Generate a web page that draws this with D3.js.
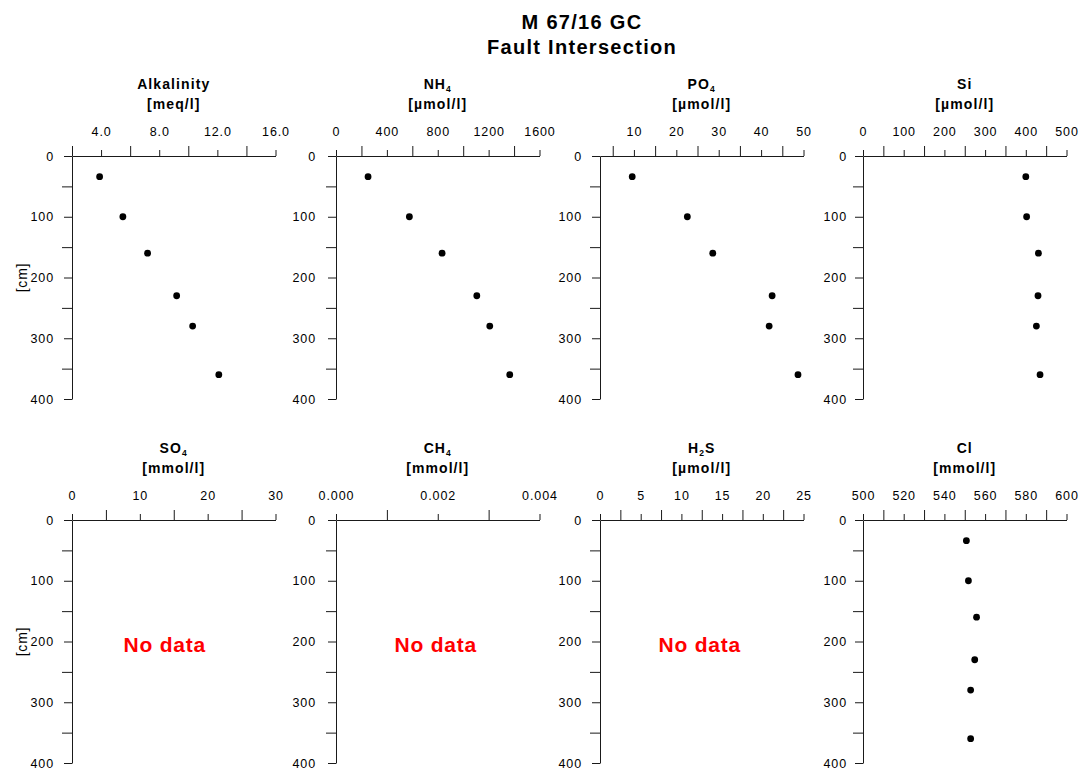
<!DOCTYPE html>
<html>
<head>
<meta charset="utf-8">
<script src="https://cdn.jsdelivr.net/npm/d3@7"></script>
<style>
  html, body { margin: 0; padding: 0; background: #fff; }
  svg { display: block; font-family: "Liberation Sans", Arial, sans-serif; }
</style>
</head>
<body>
<svg id="chart" width="1079" height="769"></svg>
<script>
// ---------------- data ----------------
const depth      = [34, 100, 160, 230, 280, 360];           // cm
const alkalinity = [3.9, 5.5, 7.2, 9.2, 10.3, 12.1];        // meq/l
const nh4        = [252, 577, 834, 1107, 1209, 1366];       // µmol/l
const po4        = [9.6, 22.6, 28.6, 42.6, 41.9, 48.7];     // µmol/l
const si         = [400, 402, 431, 430, 426, 435];          // µmol/l
const so4        = [];                                      // mmol/l (no data)
const ch4        = [];                                      // mmol/l (no data)
const h2s        = [];                                      // µmol/l (no data)
const cl         = [550.8, 551.8, 555.8, 554.9, 552.9, 552.9]; // mmol/l

// axis ticks and labelled ticks
const alkTicks = [2, 4, 6, 8, 10, 12, 14, 16],            alkLabels = [4, 8, 12, 16];
const nh4Ticks = [0, 200, 400, 600, 800, 1000, 1200, 1400, 1600], nh4Labels = [0, 400, 800, 1200, 1600];
const po4Ticks = [5, 10, 15, 20, 25, 30, 35, 40, 45, 50], po4Labels = [10, 20, 30, 40, 50];
const siTicks  = [0, 50, 100, 150, 200, 250, 300, 350, 400, 450, 500], siLabels = [0, 100, 200, 300, 400, 500];
const so4Ticks = [0, 5, 10, 15, 20, 25, 30],              so4Labels = [0, 10, 20, 30];
const ch4Ticks = [0, 0.001, 0.002, 0.003, 0.004],         ch4Labels = [0, 0.002, 0.004];
const h2sTicks = [0, 2.5, 5, 7.5, 10, 12.5, 15, 17.5, 20, 22.5, 25], h2sLabels = [0, 5, 10, 15, 20, 25];
const clTicks  = [500, 510, 520, 530, 540, 550, 560, 570, 580, 590, 600], clLabels = [500, 520, 540, 560, 580, 600];
const depthTicks = [0, 50, 100, 150, 200, 250, 300, 350, 400], depthLabels = [0, 100, 200, 300, 400];

const titleText = ["M 67/16 GC", "Fault Intersection"];
const depthLabel = "[cm]";
const noDataText = "No data";

// ---------------- panels ----------------
const panels = [
  {name: [["Alkalinity"]], unit: "[meq/l]", values: alkalinity, domain: [2, 16], ticks: alkTicks, labels: alkLabels, fmt: ".1f"},
  {name: [["NH"], ["4", 1]], unit: "[µmol/l]", values: nh4, domain: [0, 1600], ticks: nh4Ticks, labels: nh4Labels, fmt: "d"},
  {name: [["PO"], ["4", 1]], unit: "[µmol/l]", values: po4, domain: [2, 50], ticks: po4Ticks, labels: po4Labels, fmt: "d"},
  {name: [["Si"]], unit: "[µmol/l]", values: si, domain: [0, 500], ticks: siTicks, labels: siLabels, fmt: "d"},
  {name: [["SO"], ["4", 1]], unit: "[mmol/l]", values: so4, domain: [0, 30], ticks: so4Ticks, labels: so4Labels, fmt: "d", ndShift: -9},
  {name: [["CH"], ["4", 1]], unit: "[mmol/l]", values: ch4, domain: [0, 0.004], ticks: ch4Ticks, labels: ch4Labels, fmt: ".3f", ndShift: -2},
  {name: [["H"], ["2", 1], ["S"]], unit: "[µmol/l]", values: h2s, domain: [0, 25], ticks: h2sTicks, labels: h2sLabels, fmt: "d", ndShift: -2},
  {name: [["Cl"]], unit: "[mmol/l]", values: cl, domain: [500, 600], ticks: clTicks, labels: clLabels, fmt: "d"}
];

// ---------------- layout ----------------
const colX = [72, 336, 600, 863];
const rowY = [156, 520];
const pw = 203.5, ph = 243;
const ink = "#1a1a1a";

const svg = d3.select("#chart");

// main title
svg.append("text").attr("x", 582).attr("y", 29)
  .attr("text-anchor", "middle").attr("font-size", 20).attr("font-weight", "bold")
  .attr("letter-spacing", 1.3).attr("fill", "#000").text(titleText[0]);
svg.append("text").attr("x", 582).attr("y", 54)
  .attr("text-anchor", "middle").attr("font-size", 20).attr("font-weight", "bold")
  .attr("letter-spacing", 1.3).attr("fill", "#000").text(titleText[1]);

panels.forEach((p, i) => {
  const col = i % 4, row = Math.floor(i / 4);
  const g = svg.append("g").attr("transform", `translate(${colX[col]},${rowY[row]})`);
  const x = d3.scaleLinear().domain(p.domain).range([0, pw]);
  const y = d3.scaleLinear().domain([0, 400]).range([0, ph]);
  const isLab = v => p.labels.some(l => Math.abs(l - v) < 1e-9);
  const fmt = d3.format(p.fmt);

  // x axis: unlabelled (long) ticks
  g.append("g").call(d3.axisTop(x).tickValues(p.ticks.filter(v => !isLab(v)))
      .tickSize(10).tickSizeOuter(0).tickFormat(""))
    .call(a => a.select(".domain").remove());
  // x axis: labelled (short) ticks
  const xa = g.append("g").call(d3.axisTop(x).tickValues(p.labels)
      .tickSize(6).tickSizeOuter(0).tickPadding(14).tickFormat(fmt));

  // y axis
  g.append("g").call(d3.axisLeft(y).tickValues(depthTicks.filter(v => !depthLabels.includes(v)))
      .tickSize(10).tickSizeOuter(0).tickFormat(""))
    .call(a => a.select(".domain").remove());
  const ya = g.append("g").call(d3.axisLeft(y).tickValues(depthLabels)
      .tickSize(8).tickSizeOuter(0).tickPadding(col === 1 ? 12 : (col === 3 ? 8 : 10)).tickFormat(d3.format("d")));

  g.selectAll(".domain, .tick line").attr("stroke", ink).attr("stroke-width", 1);
  g.selectAll(".tick text").attr("font-size", 12.5).attr("fill", "#000")
    .attr("letter-spacing", 0.9).attr("font-family", "Liberation Sans, Arial, sans-serif");

  // panel title
  const t = g.append("text").attr("x", pw / 2).attr("y", -67)
    .attr("text-anchor", "middle").attr("font-size", 14).attr("font-weight", "bold")
    .attr("letter-spacing", 1.1).attr("fill", "#000");
  let shifted = false;
  p.name.forEach(part => {
    const ts = t.append("tspan").text(part[0]);
    if (part[1]) { ts.attr("font-size", 8.5).attr("dy", 3); shifted = true; }
    else if (shifted) { ts.attr("dy", -3); shifted = false; }
  });
  g.append("text").attr("x", pw / 2).attr("y", -47)
    .attr("text-anchor", "middle").attr("font-size", 14).attr("font-weight", "bold")
    .attr("letter-spacing", 1.1).attr("fill", "#000").text(p.unit);

  // depth label on left column
  if (col === 0) {
    g.append("text").attr("transform", `translate(${-45},${ph / 2}) rotate(-90)`)
      .attr("text-anchor", "middle").attr("font-size", 14).attr("letter-spacing", 0.8)
      .attr("fill", "#000").text(depthLabel);
  }

  if (p.values.length) {
    g.selectAll("circle.pt").data(p.values).join("circle").attr("class", "pt")
      .attr("cx", d => x(d)).attr("cy", (d, k) => y(depth[k])).attr("r", 3.4).attr("fill", "#000");
  } else {
    g.append("text").attr("x", pw / 2 + (p.ndShift || 0)).attr("y", y(200) + 10.5)
      .attr("text-anchor", "middle").attr("font-size", 21).attr("font-weight", "bold")
      .attr("letter-spacing", 0.8).attr("fill", "#ff0000").text(noDataText);
  }
});
</script>
</body>
</html>
